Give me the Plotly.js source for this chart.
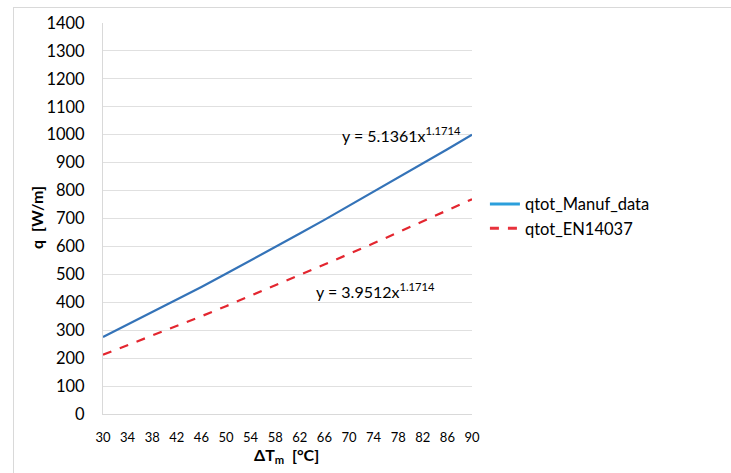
<!DOCTYPE html>
<html><head><meta charset="utf-8">
<script src="https://cdn.plot.ly/plotly-3.0.1.min.js"></script>
<style>html,body{margin:0;padding:0;background:#fff;overflow:hidden}
#frame{position:absolute;left:13px;top:7px;width:730px;height:480px;border:1px solid #d9d9d9;pointer-events:none}
#chart{width:731px;height:473px}</style>
</head><body>
<div id="chart"></div><div id="frame"></div>
<script>
const dT = [30, 34, 38, 42, 46, 50, 54, 58, 62, 66, 70, 74, 78, 82, 86, 90];
const qManuf = [276, 320, 364, 409, 455, 502, 549, 597, 646, 695, 745, 795, 845, 896, 948, 1000];
const qEN = [212, 246, 280, 315, 350, 386, 423, 460, 497, 535, 573, 611, 650, 690, 729, 769];
const names = ['qtot_Manuf_data', 'qtot_EN14037'];
const eqTexts = ['y = 5.1361x<sup>1.1714</sup>', 'y = 3.9512x<sup>1.1714</sup>'];
const xTitle = '<b>ΔT<sub>m</sub>  [°C]</b>';
const yTitle = '<b>q  [W/m]</b>';
const xTicks = dT;
const yTicks = [0,100,200,300,400,500,600,700,800,900,1000,1100,1200,1300,1400];

const font = 'Lato, "Open Sans", sans-serif';
const traces = [
  {x: dT, y: qManuf, name: names[0], mode: 'lines', showlegend: false, line: {color: '#3473b8', width: 2.2}},
  {x: dT, y: qEN, name: names[1], mode: 'lines', showlegend: false, line: {color: '#e3262f', width: 2.2, dash: 'dash'}},
  {x: [null], y: [null], name: names[0], mode: 'lines', line: {color: '#2b9fdc', width: 3}},
  {x: [null], y: [null], name: names[1], mode: 'lines', line: {color: '#e8323c', width: 3, dash: 'dash'}}
];
const layout = {
  width: 731, height: 473,
  margin: {l: 103, r: 259, t: 23, b: 59},
  paper_bgcolor: '#fff', plot_bgcolor: '#fff',
  font: {family: font, color: '#000', size: 15},
  showlegend: true,
  legend: {x: 1.035, y: 0.506, xanchor: 'left', yanchor: 'middle', font: {size: 16.5, family: font}, tracegroupgap: 0, itemwidth: 30},
  xaxis: {
    range: [30, 90], tickvals: xTicks, ticktext: xTicks.map(String),
    showgrid: false, showline: true, linecolor: '#d9d9d9', linewidth: 1, zeroline: false,
    ticks: 'outside', ticklen: 11, tickcolor: 'rgba(0,0,0,0)', tickfont: {size: 13, family: font}, tickangle: 0
  },
  yaxis: {
    range: [0, 1400], tickvals: yTicks, ticktext: yTicks.map(String),
    showgrid: true, gridcolor: '#e0e0e0', gridwidth: 1, showline: true, linecolor: '#d9d9d9', linewidth: 1,
    zeroline: false, ticks: 'outside', ticklen: 14, tickcolor: 'rgba(0,0,0,0)', tickfont: {size: 16.5, family: font}
  },
  annotations: [
    {x: 88.6, y: 1000, xref: 'x', yref: 'y', text: eqTexts[0], showarrow: false, xanchor: 'right', yanchor: 'middle', font: {size: 16, family: font}},
    {x: 84.3, y: 443, xref: 'x', yref: 'y', text: eqTexts[1], showarrow: false, xanchor: 'right', yanchor: 'middle', font: {size: 16, family: font}},
    {x: 0.4986, y: -0.105, xref: 'paper', yref: 'paper', text: xTitle, showarrow: false, xanchor: 'center', yanchor: 'middle', font: {size: 16, family: font}},
    {x: -0.179, y: 0.504, xref: 'paper', yref: 'paper', text: yTitle, textangle: -90, showarrow: false, xanchor: 'center', yanchor: 'middle', font: {size: 16, family: font}}
  ]
};
Plotly.newPlot('chart', traces, layout, {displayModeBar: false, staticPlot: true});
</script>
</body></html>
